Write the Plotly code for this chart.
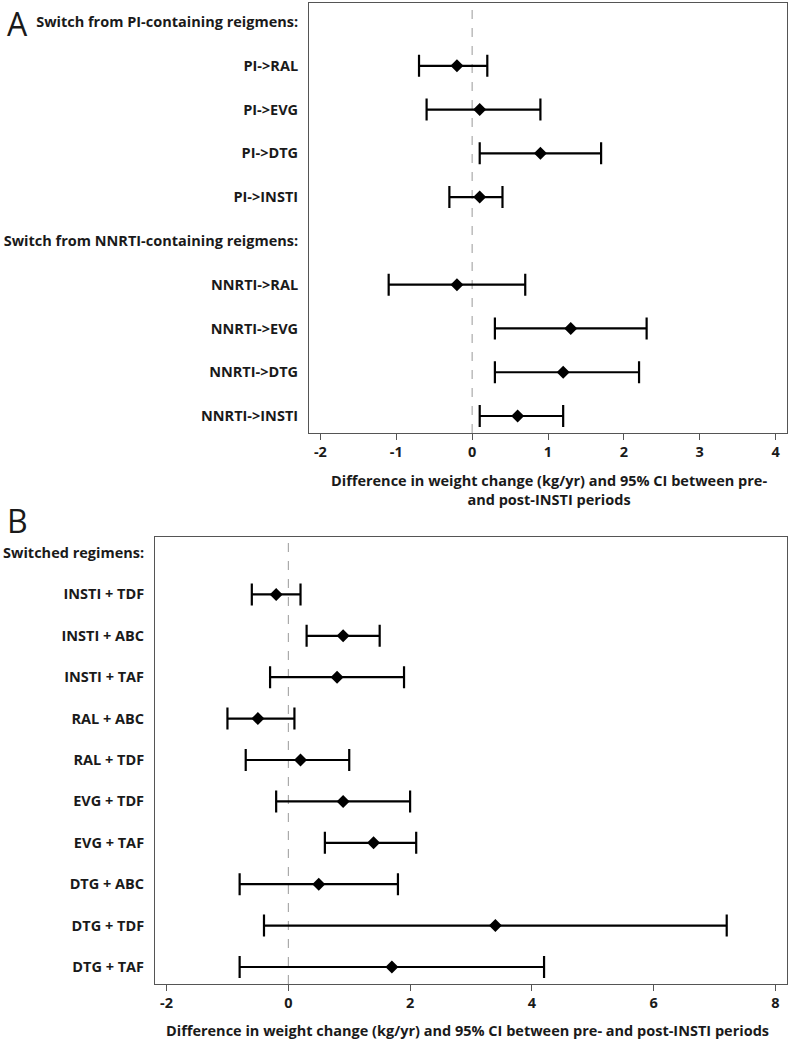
import plotly.graph_objects as go

# ---------------- Panel A data ----------------
a_labels = ["Switch from PI-containing reigmens:", "PI->RAL", "PI->EVG", "PI->DTG", "PI->INSTI",
            "Switch from NNRTI-containing reigmens:", "NNRTI->RAL", "NNRTI->EVG", "NNRTI->DTG", "NNRTI->INSTI"]
a_names = ["PI->RAL", "PI->EVG", "PI->DTG", "PI->INSTI",
           "NNRTI->RAL", "NNRTI->EVG", "NNRTI->DTG", "NNRTI->INSTI"]
a_est = [-0.2, 0.1, 0.9, 0.1, -0.2, 1.3, 1.2, 0.6]
a_lo = [-0.7, -0.6, 0.1, -0.3, -1.1, 0.3, 0.3, 0.1]
a_hi = [0.2, 0.9, 1.7, 0.4, 0.7, 2.3, 2.2, 1.2]
a_xticks = [-2, -1, 0, 1, 2, 3, 4]
a_xticklabels = ["-2", "-1", "0", "1", "2", "3", "4"]

# ---------------- Panel B data ----------------
b_labels = ["Switched regimens:", "INSTI + TDF", "INSTI + ABC", "INSTI + TAF", "RAL + ABC", "RAL + TDF",
            "EVG + TDF", "EVG + TAF", "DTG + ABC", "DTG + TDF", "DTG + TAF"]
b_names = b_labels[1:]
b_est = [-0.2, 0.9, 0.8, -0.5, 0.2, 0.9, 1.4, 0.5, 3.4, 1.7]
b_lo = [-0.6, 0.3, -0.3, -1.0, -0.7, -0.2, 0.6, -0.8, -0.4, -0.8]
b_hi = [0.2, 1.5, 1.9, 0.1, 1.0, 2.0, 2.1, 1.8, 7.2, 4.2]
b_xticks = [-2, 0, 2, 4, 6, 8]
b_xticklabels = ["-2", "0", "2", "4", "6", "8"]

W, H = 792, 1044
FONT = "Open Sans"
FS = 14.5

def px_x(p):
    return p / W

def px_y(p):
    return 1 - p / H

fig = go.Figure()

def add_panel(names, est, lo, hi, labels, xa, ya):
    ys = [labels.index(n) for n in names]
    fig.add_trace(go.Scatter(
        x=est, y=ys, mode="markers", xaxis=xa, yaxis=ya,
        marker=dict(symbol="diamond", size=10, color="black"),
        error_x=dict(type="data", symmetric=False,
                     array=[h - e for h, e in zip(hi, est)],
                     arrayminus=[e - l for e, l in zip(est, lo)],
                     color="black", thickness=2.2, width=11),
        showlegend=False, hoverinfo="skip"))

add_panel(a_names, a_est, a_lo, a_hi, a_labels, "x", "y")
add_panel(b_names, b_est, b_lo, b_hi, b_labels, "x2", "y2")

axis_common = dict(showline=True, mirror=True, linecolor="#555555", linewidth=1,
                   showgrid=False, zeroline=False)
tickfont = dict(family=FONT, size=FS, color="#1a1a1a", weight="bold")

fig.update_layout(
    width=W, height=H, margin=dict(l=0, r=0, t=0, b=0),
    plot_bgcolor="white", paper_bgcolor="white",
    font=dict(family=FONT, color="#1a1a1a"),
    xaxis=dict(domain=[px_x(309), px_x(787)], anchor="y", range=[-2.15, 4.15],
               tickvals=a_xticks, ticktext=a_xticklabels, ticks="outside", ticklen=6,
               tickcolor="#555555", tickfont=tickfont, **axis_common),
    yaxis=dict(domain=[px_y(433), px_y(3)], anchor="x", range=[9.388, -0.434],
               tickvals=list(range(len(a_labels))), ticktext=a_labels, ticks="",
               ticklabelstandoff=7, tickfont=tickfont, **axis_common),
    xaxis2=dict(domain=[px_x(155), px_x(787)], anchor="y2", range=[-2.19, 8.19],
                tickvals=b_xticks, ticktext=b_xticklabels, ticks="outside", ticklen=6,
                tickcolor="#555555", tickfont=tickfont, **axis_common),
    yaxis2=dict(domain=[px_y(984), px_y(537)], anchor="x2", range=[10.41, -0.386],
                tickvals=list(range(len(b_labels))), ticktext=b_labels, ticks="",
                ticklabelstandoff=7, tickfont=tickfont, **axis_common),
)

# reference lines at zero
for xa, ya in [("x", "y"), ("x2", "y2")]:
    fig.add_shape(type="line", xref=xa, yref=f"{ya} domain", x0=0, x1=0, y0=0, y1=1,
                  line=dict(color="#999999", width=1, dash="dash"), layer="below")

# axis titles
fig.add_annotation(xref="paper", yref="paper", x=px_x(549), y=px_y(490),
                   text="Difference in weight change (kg/yr) and 95% CI between pre-<br>and post-INSTI periods",
                   showarrow=False, align="center", xanchor="center", yanchor="middle",
                   font=dict(family=FONT, size=FS, color="#1a1a1a", weight="bold"))
fig.add_annotation(xref="paper", yref="paper", x=px_x(467), y=px_y(1030),
                   text="Difference in weight change (kg/yr) and 95% CI between pre- and post-INSTI periods",
                   showarrow=False, align="center", xanchor="center", yanchor="middle",
                   font=dict(family=FONT, size=FS, color="#1a1a1a", weight="bold"))

# panel letters
fig.add_annotation(xref="paper", yref="paper", x=px_x(5), y=px_y(0), text="A",
                   showarrow=False, xanchor="left", yanchor="top",
                   font=dict(family=FONT, size=32, color="#1a1a1a"))
fig.add_annotation(xref="paper", yref="paper", x=px_x(5), y=px_y(497), text="B",
                   showarrow=False, xanchor="left", yanchor="top",
                   font=dict(family=FONT, size=32, color="#1a1a1a"))

fig.write_html("out.html", config={"displayModeBar": False},
               post_script="document.body.style.margin='0';document.body.style.overflow='hidden';")
